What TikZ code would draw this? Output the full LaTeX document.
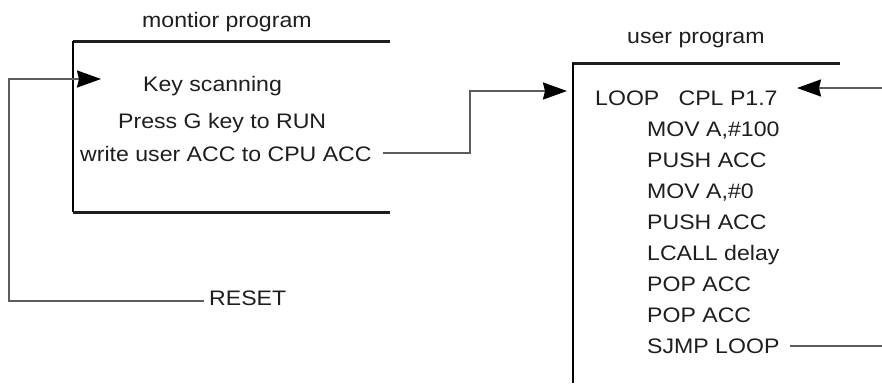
\documentclass[tikz,border=0pt]{standalone}
\usepackage{fontspec}
\setmainfont{Liberation Sans}[FakeStretch=1.1]
\usetikzlibrary{arrows.meta}
\definecolor{ink}{HTML}{1E1E1E}
\definecolor{wiregray}{HTML}{5C5C5C}
\tikzset{
  txt/.style={anchor=base west, inner sep=0pt, text=ink, font=\fontsize{21}{25}\selectfont},
  frame/.style={line width=3pt, draw=ink},
  edge/.style={line width=2.6pt, draw=black},
  wire/.style={line width=2pt, draw=wiregray, line join=miter},
  tipped/.style={-{Stealth[length=24pt,width=17pt,inset=2pt,color=black]}},
}
\begin{document}
\begin{tikzpicture}[x=1pt,y=-1pt]
\useasboundingbox (0,0) rectangle (882,383);

% monitor program: open frame
\node[txt] (montitle) at (142,27) {montior program};
\draw[frame] (390,41) -- (73,41);
\draw[frame] (73,212) -- (390,212);
\draw[edge] (73,41) -- (73,212);
\node[txt] (keyscan) at (143,91) {Key scanning};
\node[txt] (pressg) at (118,128) {Press G key to RUN};
\node[txt] (wracc) at (80,161) {write user ACC to CPU ACC};

% user program: open frame
\node[txt] (usrtitle) at (627,43) {user program};
\draw[frame] (572,63) -- (840,63);
\draw[edge] (573,63) -- (573,383);
\node[txt] (l1) at (595,105) {LOOP\ \ \ CPL P1.7};
\node[txt] (l2) at (647,136) {MOV A,\#100};
\node[txt] (l3) at (647,167) {PUSH ACC};
\node[txt] (l4) at (647,198) {MOV A,\#0};
\node[txt] (l5) at (647,229) {PUSH ACC};
\node[txt] (l6) at (647,260) {LCALL delay};
\node[txt] (l7) at (647,291) {POP ACC};
\node[txt] (l8) at (647,322) {POP ACC};
\node[txt] (l9) at (647,353) {SJMP LOOP};

% reset entry into the monitor
\node[txt] (reset) at (209,305) {RESET};
\coordinate (rstend) at (204,301);
\coordinate (monin) at (101,79);
\draw[wire,tipped] (rstend) -- (9,301) -- (9,79) -- (monin);

% monitor hands over to the user program
\coordinate (wrout) at (383,153);
\coordinate (usrin) at (567,91);
\draw[wire,tipped] (wrout) -- (470,153) -- (470,91) -- (usrin);

% jump back to LOOP
\coordinate (loopin) at (797,88);
\coordinate (rightin) at (882,88);
\draw[wire,tipped] (rightin) -- (loopin);
\coordinate (sjmpout) at (790,346);
\coordinate (rightout) at (882,346);
\draw[wire] (sjmpout) -- (rightout);
\end{tikzpicture}
\end{document}
